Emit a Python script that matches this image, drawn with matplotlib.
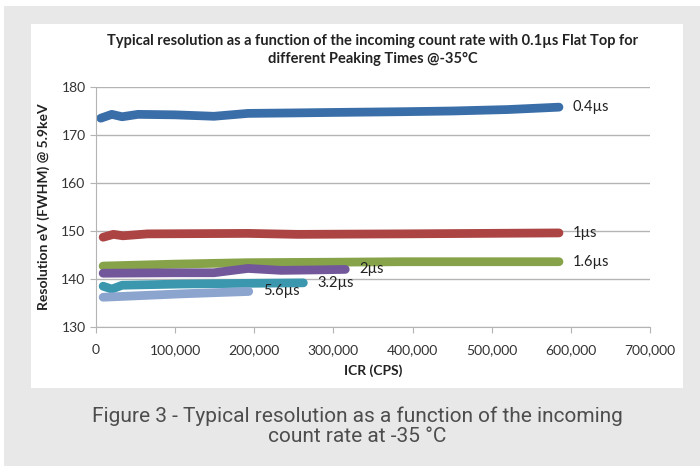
import numpy as np
import matplotlib.pyplot as plt
from matplotlib.patches import Rectangle
from matplotlib.ticker import FuncFormatter

# ICR (CPS) and resolution (eV) per peaking time
x_04 = [6000, 20000, 33000, 53000, 100000, 149000, 192000, 250000, 300000, 386000, 450000, 520000, 585000]
y_04 = [173.5, 174.3, 173.8, 174.3, 174.2, 173.9, 174.5, 174.6, 174.7, 174.85, 175.0, 175.3, 175.8]

x_1 = [9000, 22000, 34000, 65000, 192000, 255000, 386000, 585000]
y_1 = [148.7, 149.3, 149.0, 149.4, 149.5, 149.3, 149.4, 149.6]

x_16 = [9000, 100000, 192000, 300000, 386000, 585000]
y_16 = [142.7, 143.1, 143.4, 143.5, 143.6, 143.6]

x_2 = [9000, 100000, 149000, 192000, 234000, 280000, 315000]
y_2 = [141.2, 141.3, 141.3, 142.2, 141.8, 141.9, 142.0]

x_32 = [9000, 20000, 33000, 107000, 192000, 262000]
y_32 = [138.5, 137.9, 138.7, 138.95, 139.1, 139.2]

x_56 = [9000, 107000, 193000]
y_56 = [136.2, 136.9, 137.4]

series = [
    (x_04, y_04, '0.4\u00b5s', '#3a6ea8'),
    (x_1, y_1, '1\u00b5s', '#ab4442'),
    (x_16, y_16, '1.6\u00b5s', '#87a34a'),
    (x_2, y_2, '2\u00b5s', '#72579a'),
    (x_32, y_32, '3.2\u00b5s', '#3b97ae'),
    (x_56, y_56, '5.6\u00b5s', '#8ca5cf'),
]

xticks = [0, 100000, 200000, 300000, 400000, 500000, 600000, 700000]
yticks = [130, 140, 150, 160, 170, 180]

plt.rcParams['font.family'] = ['Lato', 'DejaVu Sans']

fig = plt.figure(figsize=(7, 4.66), dpi=100, facecolor='white')
# grey page panel and the white chart box
fig.patches.append(Rectangle((4 / 700, 0), 1, 1 - 6 / 466, transform=fig.transFigure,
                             facecolor='#e8e8e8', edgecolor='none', zorder=-2))
fig.patches.append(Rectangle((31 / 700, 1 - 388 / 466), 652 / 700, 364 / 466,
                             transform=fig.transFigure, facecolor='white',
                             edgecolor='none', zorder=-1))

ax = fig.add_axes([96 / 700, 1 - 327 / 466, 554 / 700, 240 / 466])
ax.set_facecolor('none')

for xs, ys, name, col in series:
    ax.plot(xs, ys, color=col, lw=6.3, solid_capstyle='round', solid_joinstyle='round')
    ax.annotate(name, (xs[-1], ys[-1]), xytext=(10, 0), textcoords='offset points',
                va='center', ha='left', fontsize=10.5, color='#222222')

ax.set_xlim(0, 700000)
ax.set_ylim(130, 180)
ax.set_xticks(xticks)
ax.set_yticks(yticks)
ax.xaxis.set_major_formatter(FuncFormatter(lambda v, p: '{:,.0f}'.format(v)))
ax.grid(axis='y', color='#b4b4b4', lw=1)
ax.set_axisbelow(True)
for s in ['top', 'right']:
    ax.spines[s].set_visible(False)
for s in ['left', 'bottom']:
    ax.spines[s].set_color('#b4b4b4')
ax.tick_params(colors='#b4b4b4', labelcolor='#333333', labelsize=10, length=4)
ax.tick_params(axis='x', pad=8)

ax.set_xlabel('ICR (CPS)', fontsize=10, fontweight='bold', color='#222222', labelpad=6)
ax.set_ylabel('Resolution eV (FWHM) @ 5.9keV', fontsize=10, fontweight='bold',
              color='#222222', labelpad=8)
ax.set_title('Typical resolution as a function of the incoming count rate with 0.1\u00b5s Flat Top for\n'
             'different Peaking Times @-35\u00b0C', fontsize=10.5, fontweight='bold',
             color='#222222', pad=17, linespacing=1.4)

fig.text(357 / 700, 1 - 426 / 466,
         'Figure 3 - Typical resolution as a function of the incoming\ncount rate at -35 \u00b0C',
         ha='center', va='center', fontsize=15, color='#4d4d4d',
         family=['Roboto', 'DejaVu Sans'], fontweight='normal', linespacing=1.1)

fig.savefig('out.png', dpi=100, facecolor=fig.get_facecolor())
